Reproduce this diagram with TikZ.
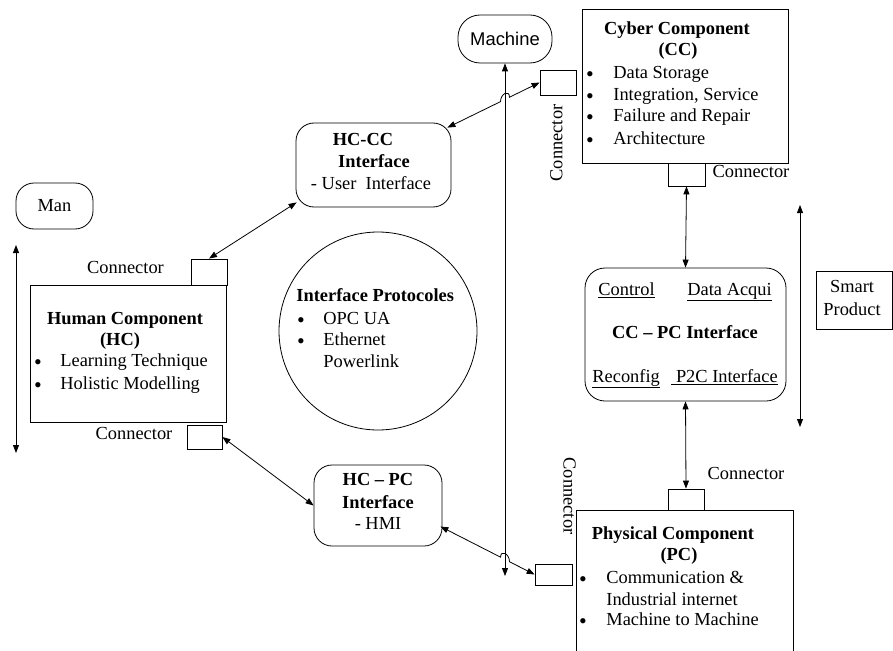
\documentclass[tikz,border=0pt]{standalone}
\usepackage{fontspec}
\setmainfont{Liberation Serif}
\newfontfamily\sansf{Liberation Sans}
\usetikzlibrary{arrows.meta,calc}
\begin{document}
\begin{tikzpicture}[x=1pt,y=-1pt, line width=0.8pt,
  every node/.style={font=\fontsize{18.4}{22}\selectfont, inner sep=0pt},
  box/.style={draw, minimum width=#1},
  rbox/.style={draw, rounded corners=18pt},
  lbl/.style={anchor=mid},
  lft/.style={anchor=mid west},
  bulnode/.style={anchor=center, font=\fontsize{22}{22}\selectfont},
  bt/.style={font=\fontsize{18.4}{22}\selectfont\bfseries, anchor=mid},
  dbl/.style={{Triangle[length=8pt,width=6pt]}-{Triangle[length=8pt,width=6pt]}},
]
\useasboundingbox (0,0) rectangle (893,650);

% ---------- boxes ----------
\node[rbox, rounded corners=22pt, minimum width=94, minimum height=48, font=\fontsize{18.4}{22}\selectfont\sansf] (mach) at (505,39) {Machine};
\node[box=206, minimum height=154] (cc) at (685,86) {};
\node[box=36, minimum height=25] (ccl) at (558,82.5) {};
\node[box=37, minimum height=23] (ccb) at (686.5,174.5) {};
\node[rbox, minimum width=155, minimum height=84] (hccc) at (373.5,165) {};
\node[draw, circle, minimum size=198] (proto) at (378,331) {};
\node[rbox, minimum width=77, minimum height=46] (man) at (54.5,206) {Man};
\node[box=196, minimum height=137] (hc) at (128,353.5) {};
\node[box=36, minimum height=26] (hct) at (209,272) {};
\node[box=35, minimum height=24] (hcb) at (204.5,437) {};
\node[rbox, minimum width=128, minimum height=81] (hcpc) at (378,505.5) {};
\node[rbox, rounded corners=20pt, minimum width=201, minimum height=133] (ccpc) at (685.5,334.5) {};
\node[box=76, minimum height=58] (smart) at (854,300) {};
\node[box=36, minimum height=21] (pct) at (686,499.5) {};
\node[box=37, minimum height=21] (pcl) at (553.5,574.5) {};
\draw (576,651) -- (576,510) -- (793,510) -- (793,651);

% ---------- texts ----------
% CC
\node[bt] (cct1) at (677,32) {Cyber Component};
\node[bt] (cct2) at (678,53) {(CC)};
\node[bulnode] (ccb1) at (590,77) {•};
\node[bulnode] (ccb2) at (590,99) {•};
\node[bulnode] (ccb3) at (590,120) {•};
\node[bulnode] (ccb4) at (590,143) {•};
\node[lft] (cci1) at (613,76) {Data Storage};
\node[lft] (cci2) at (613,98) {Integration, Service};
\node[lft] (cci3) at (613,119) {Failure and Repair};
\node[lft] (cci4) at (613,142) {Architecture};
\node[lbl, rotate=90] (cclbl) at (560,143) {Connector};
\node[lbl] (ccblbl) at (751,175) {Connector};
% HC-CC
\node[bt] (hccct1) at (363,143) {HC-CC};
\node[bt] (hccct2) at (374,165) {Interface};
\node[lbl] (hccct3) at (371,187) {- User\ \ Interface};
% protocols
\node[font=\fontsize{18.4}{22}\selectfont\bfseries, anchor=mid west] (pr1) at (296,299) {Interface Protocoles};
\node[bulnode] (prb1) at (301,323) {•};
\node[bulnode] (prb2) at (301,344) {•};
\node[lft] (pr2) at (323,322) {OPC UA};
\node[lft] (pr3) at (323,343) {Ethernet};
\node[lft] (pr4) at (323,365) {Powerlink};
% HC
\node[lbl] (hctlbl) at (125.5,271) {Connector};
\node[bt] (hct1) at (125,322) {Human Component};
\node[bt] (hct2) at (120,343) {(HC)};
\node[bulnode] (hcb1) at (38,365) {•};
\node[bulnode] (hcb2) at (38,388) {•};
\node[lft] (hci1) at (60,364) {Learning Technique};
\node[lft] (hci2) at (60,387) {Holistic Modelling};
\node[lbl] (hcblbl) at (134,437) {Connector};
% HC-PC
\node[bt] (hcpct1) at (378,483) {HC -- PC};
\node[bt] (hcpct2) at (378,506) {Interface};
\node[lbl] (hcpct3) at (378,527) {- HMI};
% CC-PC
\node[lft] (ctl) at (598,293) {\underline{Control}};
\node[lft] (daq) at (687,293) {\underline{Data Acqui}};
\node[bt] (ccpct) at (685,336) {CC -- PC Interface};
\node[lft] (rcf) at (592,380) {\underline{Reconfig}};
\node[lft] (p2c) at (671,380) {\underline{\ P2C Interface}};
% smart product
\node[lbl] (sp1) at (852,290) {Smart};
\node[lbl] (sp2) at (852,313) {Product};
% PC
\node[lbl] (pctlbl) at (746,477) {Connector};
\node[lbl, rotate=-90] (pcllbl) at (566,496) {Connector};
\node[bt] (pct1) at (673,537) {Physical Component};
\node[bt] (pct2) at (679,558) {(PC)};
\node[bulnode] (pcb1) at (583,582) {•};
\node[bulnode] (pcb2) at (583,624) {•};
\node[lft] (pci1) at (606,581) {Communication \&};
\node[lft] (pci2) at (606,603) {Industrial internet};
\node[lft] (pci3) at (606,623) {Machine to Machine};

% ---------- connectors ----------
\coordinate (vbot) at (505,576);
\draw[dbl] (mach.south) -- (vbot);
\coordinate (lt) at (16,245);
\coordinate (lb) at (16,453);
\draw[dbl] (lt) -- (lb);
\coordinate (rt) at (800,205);
\coordinate (rb) at (800,427);
\draw[dbl] (rt) -- (rb);

\draw[dbl] (ccb.south) -- (ccpc.north);
\draw[dbl] (ccpc.south) -- (pct.north);

\coordinate (hccclo) at ($(hccc.south west)+(1,-5)$);
\draw[dbl] (hct.north) -- (hccclo);
\draw[dbl] (hcb.east) -- (hcpc.west);

% hop 1
\coordinate (s1) at (ccl.west);
\coordinate (e1) at ($(hccc.north east)+(-4,5)$);
\coordinate (m1) at (mach.south);
\coordinate (X1) at (intersection of s1--e1 and m1--vbot);
\draw[dbl] (s1) -- ($(X1)!5pt!(s1)$) .. controls +(0,-8) and +(0,-8) .. ($(X1)!5pt!(e1)$) -- (e1);

% hop 2
\coordinate (s2) at ($(hcpc.east)+(-2,21)$);
\coordinate (e2) at (pcl.west);
\coordinate (X2) at (intersection of s2--e2 and m1--vbot);
\draw[dbl] (s2) -- ($(X2)!5pt!(s2)$) .. controls +(0,-8) and +(0,-8) .. ($(X2)!5pt!(e2)$) -- (e2);
\end{tikzpicture}
\end{document}
